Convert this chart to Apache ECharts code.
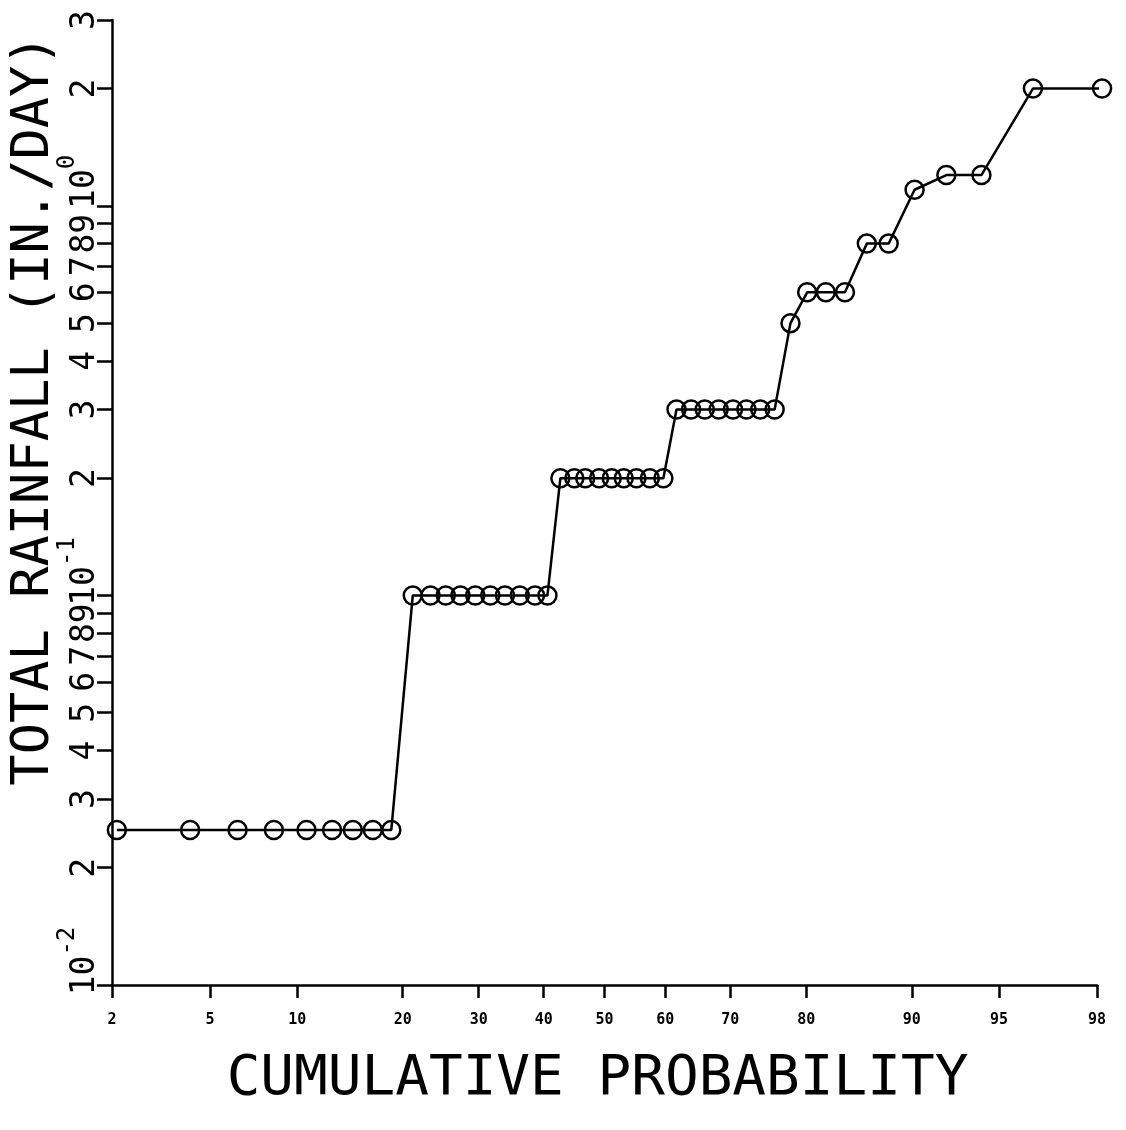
<!DOCTYPE html>
<html><head><meta charset="utf-8">
<script src="https://cdn.jsdelivr.net/npm/echarts@6/dist/echarts.min.js"></script>
<style>html,body{margin:0;padding:0;background:#fff}#chart{width:1126px;height:1130px}</style>
</head><body><div id="chart"></div>
<script>
// ---- data ----
const xTickProbs = [2, 5, 10, 20, 30, 40, 50, 60, 70, 80, 90, 95, 98];          // cumulative probability, %
const yTickValues = [0.01,0.02,0.03,0.04,0.05,0.06,0.07,0.08,0.09,
                     0.1,0.2,0.3,0.4,0.5,0.6,0.7,0.8,0.9,1,2,3];                   // in./day
const yTickLabels = ['10^-2','2','3','4','5','6','7','8','9',
                     '10^-1','2','3','4','5','6','7','8','9','10^0','2','3'];
const probability = [2.1, 4.2, 6.3, 8.4, 10.7, 12.8, 14.7, 16.7, 18.7,
                     21.2, 23.4, 25.4, 27.4, 29.5, 31.7, 33.9, 36.2, 38.6, 40.6,
                     42.7, 45.0, 46.8, 49.1, 51.2, 53.2, 55.3, 57.5, 59.7,
                     61.8, 64.1, 66.2, 68.3, 70.4, 72.3, 74.2, 76.1,
                     78.1,
                     80.1, 82.2, 84.2,
                     86.3, 88.2,
                     90.2,
                     92.3, 94.2,
                     96.3, 98.1];
const rainfall = [0.025,0.025,0.025,0.025,0.025,0.025,0.025,0.025,0.025,
                  0.1,0.1,0.1,0.1,0.1,0.1,0.1,0.1,0.1,0.1,
                  0.2,0.2,0.2,0.2,0.2,0.2,0.2,0.2,0.2,
                  0.3,0.3,0.3,0.3,0.3,0.3,0.3,0.3,
                  0.5,
                  0.6,0.6,0.6,
                  0.8,0.8,
                  1.1,
                  1.2,1.2,
                  2.0,2.0];

// inverse standard normal CDF (normal-probability axis)
function probit(p){
  const a=[-3.969683028665376e+01,2.209460984245205e+02,-2.759285104469687e+02,1.383577518672690e+02,-3.066479806614716e+01,2.506628277459239e+00];
  const b=[-5.447609879822406e+01,1.615858368580409e+02,-1.556989798598866e+02,6.680131188771972e+01,-1.328068155288572e+01];
  const c=[-7.784894002430293e-03,-3.223964580411365e-01,-2.400758277161838e+00,-2.549732539343734e+00,4.374664141464968e+00,2.938163982698783e+00];
  const d=[7.784695709041462e-03,3.224671290700398e-01,2.445134137142996e+00,3.754408661907416e+00];
  const pl=0.02425, ph=1-pl; let q,r;
  if(p<pl){q=Math.sqrt(-2*Math.log(p));return (((((c[0]*q+c[1])*q+c[2])*q+c[3])*q+c[4])*q+c[5])/((((d[0]*q+d[1])*q+d[2])*q+d[3])*q+1);}
  if(p<=ph){q=p-0.5;r=q*q;return (((((a[0]*r+a[1])*r+a[2])*r+a[3])*r+a[4])*r+a[5])*q/(((((b[0]*r+b[1])*r+b[2])*r+b[3])*r+b[4])*r+1);}
  q=Math.sqrt(-2*Math.log(1-p));return -(((((c[0]*q+c[1])*q+c[2])*q+c[3])*q+c[4])*q+c[5])/((((d[0]*q+d[1])*q+d[2])*q+d[3])*q+1);
}
const xTickZ = xTickProbs.map(p => probit(p/100));
function xLabel(v){
  let best=0, bd=Infinity;
  xTickZ.forEach((z,i)=>{const dd=Math.abs(z-v); if(dd<bd){bd=dd;best=i;}});
  return String(xTickProbs[best]);
}
function yLabel(v){
  let best=0, bd=Infinity;
  yTickValues.forEach((t,i)=>{const dd=Math.abs(Math.log10(t)-Math.log10(v)); if(dd<bd){bd=dd;best=i;}});
  const s = yTickLabels[best];
  if (s.indexOf('^') >= 0) {
    const parts = s.split('^');
    // powers of ten start at their tick and run upward, exponent raised
    return '{pad|}{b|' + parts[0] + '}{s|' + parts[1] + '}';
  }
  return s;
}

const FONT = 'DejaVu Sans Mono';
const chart = echarts.init(document.getElementById('chart'), null, {renderer:'canvas'});
chart.setOption({
  animation:false,
  backgroundColor:'#fff',
  grid:{left:112, right:29, top:20, bottom:145, containLabel:false},
  xAxis:{
    type:'value',
    min: probit(0.02), max: probit(0.98),
    name:'CUMULATIVE PROBABILITY',
    nameLocation:'middle', nameGap:66,
    nameTextStyle:{fontFamily:FONT, fontSize:56, color:'#000', fontWeight:'normal', padding:[0,14,0,0]},
    axisLine:{show:true, onZero:false, lineStyle:{color:'#000', width:2.5}},
    axisTick:{show:true, customValues:xTickZ, length:13, lineStyle:{color:'#000', width:2.5}},
    axisLabel:{customValues:xTickZ, formatter:xLabel, margin:28,
      fontFamily:FONT, fontSize:15, fontWeight:'bold', color:'#000'},
    splitLine:{show:false}
  },
  yAxis:{
    type:'log', logBase:10, min:0.01, max:3,
    axisLine:{show:true, onZero:false, lineStyle:{color:'#000', width:2.5}},
    axisTick:{show:true, customValues:yTickValues, length:15, lineStyle:{color:'#000', width:2.5}},
    axisLabel:{customValues:yTickValues, formatter:yLabel, rotate:90, margin:10,
      fontFamily:FONT, fontSize:33, color:'#000',
      rich:{
        pad:{width:48, fontSize:33, fontFamily:FONT, verticalAlign:'bottom'},
        b:{fontSize:33, fontFamily:FONT, color:'#000', lineHeight:46, verticalAlign:'bottom'},
        s:{fontSize:24, fontFamily:FONT, color:'#000', verticalAlign:'top', lineHeight:22}
      }},
    splitLine:{show:false}
  },
  graphic:[{
    type:'text', x:34, y:410, rotation:Math.PI/2,
    style:{text:'TOTAL RAINFALL (IN./DAY)', font:'normal 52px "DejaVu Sans Mono"', fill:'#000',
      align:'center', verticalAlign:'middle'}
  }],
  series:[{
    type:'line',
    data: probability.map((p,i)=>[probit(p/100), rainfall[i]]),
    symbol:'circle', symbolSize:18, clip:false, silent:true,
    lineStyle:{color:'#000', width:2.5},
    itemStyle:{color:'rgba(0,0,0,0)', borderColor:'#000', borderWidth:2.5}
  }]
});
</script></body></html>
